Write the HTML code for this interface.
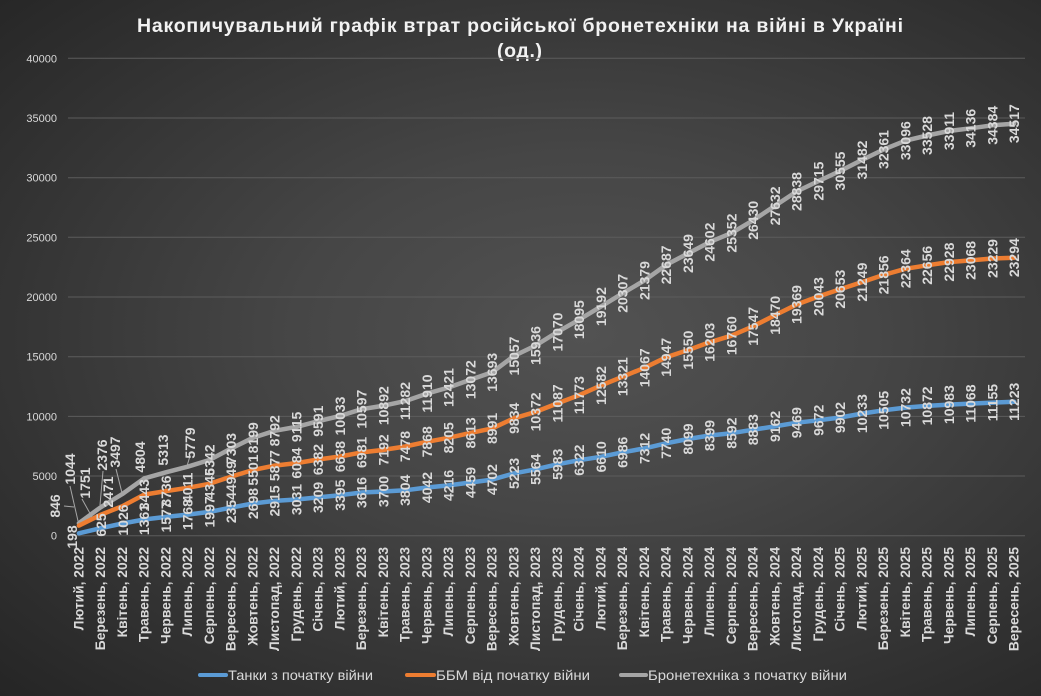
<!DOCTYPE html>
<html><head><meta charset="utf-8">
<style>
html,body{margin:0;padding:0;}
body{width:1041px;height:696px;overflow:hidden;
background:radial-gradient(ellipse farthest-corner at 56% 48%, #525252 0%, #464646 35%, #343434 70%, #252525 100%);}
svg{display:block;font-family:"Liberation Sans","DejaVu Sans",sans-serif;}
.yl{font-size:11px;fill:#d9d9d9;text-anchor:end;}
.xl text{font-size:13.8px;font-weight:bold;fill:#d9d9d9;text-anchor:end;dominant-baseline:central;}
.dl text{font-size:14px;font-weight:bold;fill:#d9d9d9;text-anchor:middle;dominant-baseline:central;}
.lg{font-size:14px;fill:#d9d9d9;dominant-baseline:central;}
</style></head><body>
<svg width="1041" height="696" viewBox="0 0 1041 696" xmlns="http://www.w3.org/2000/svg">
<!-- title -->
<text x="137" y="32" textLength="766" lengthAdjust="spacing" style="font-size:19.5px;font-weight:bold;fill:#f2f2f2;">Накопичувальний графік втрат російської бронетехніки на війні в Україні</text>
<text x="497" y="57" textLength="45" lengthAdjust="spacing" style="font-size:19.5px;font-weight:bold;fill:#f2f2f2;">(од.)</text>

<!-- gridlines -->
<g stroke="#5c5c5c" stroke-width="1">
<line x1="68" y1="535.7" x2="1025" y2="535.7"/>
<line x1="68" y1="476.0" x2="1025" y2="476.0"/>
<line x1="68" y1="416.4" x2="1025" y2="416.4"/>
<line x1="68" y1="356.7" x2="1025" y2="356.7"/>
<line x1="68" y1="297.0" x2="1025" y2="297.0"/>
<line x1="68" y1="237.3" x2="1025" y2="237.3"/>
<line x1="68" y1="177.7" x2="1025" y2="177.7"/>
<line x1="68" y1="118.0" x2="1025" y2="118.0"/>
<line x1="68" y1="58.3" x2="1025" y2="58.3"/>
</g>
<g class="yl">
<text x="57" y="539.7">0</text>
<text x="57" y="480.0">5000</text>
<text x="57" y="420.4">10000</text>
<text x="57" y="360.7">15000</text>
<text x="57" y="301.0">20000</text>
<text x="57" y="241.3">25000</text>
<text x="57" y="181.7">30000</text>
<text x="57" y="122.0">35000</text>
<text x="57" y="62.3">40000</text>
</g>

<!-- x labels -->
<g class="xl">
<text transform="translate(78.9 547) rotate(-90)">Лютий, 2022</text>
<text transform="translate(100.65 547) rotate(-90)">Березень, 2022</text>
<text transform="translate(122.4 547) rotate(-90)">Квітень, 2022</text>
<text transform="translate(144.15 547) rotate(-90)">Травень, 2022</text>
<text transform="translate(165.9 547) rotate(-90)">Червень, 2022</text>
<text transform="translate(187.65 547) rotate(-90)">Липень, 2022</text>
<text transform="translate(209.4 547) rotate(-90)">Серпень, 2022</text>
<text transform="translate(231.15 547) rotate(-90)">Вересень, 2022</text>
<text transform="translate(252.9 547) rotate(-90)">Жовтень, 2022</text>
<text transform="translate(274.65 547) rotate(-90)">Листопад, 2022</text>
<text transform="translate(296.4 547) rotate(-90)">Грудень, 2022</text>
<text transform="translate(318.15 547) rotate(-90)">Січень, 2023</text>
<text transform="translate(339.9 547) rotate(-90)">Лютий, 2023</text>
<text transform="translate(361.65 547) rotate(-90)">Березень, 2023</text>
<text transform="translate(383.4 547) rotate(-90)">Квітень, 2023</text>
<text transform="translate(405.15 547) rotate(-90)">Травень, 2023</text>
<text transform="translate(426.9 547) rotate(-90)">Червень, 2023</text>
<text transform="translate(448.65 547) rotate(-90)">Липень, 2023</text>
<text transform="translate(470.4 547) rotate(-90)">Серпень, 2023</text>
<text transform="translate(492.15 547) rotate(-90)">Вересень, 2023</text>
<text transform="translate(513.9 547) rotate(-90)">Жовтень, 2023</text>
<text transform="translate(535.65 547) rotate(-90)">Листопад, 2023</text>
<text transform="translate(557.4 547) rotate(-90)">Грудень, 2023</text>
<text transform="translate(579.15 547) rotate(-90)">Січень, 2024</text>
<text transform="translate(600.9 547) rotate(-90)">Лютий, 2024</text>
<text transform="translate(622.65 547) rotate(-90)">Березень, 2024</text>
<text transform="translate(644.4 547) rotate(-90)">Квітень, 2024</text>
<text transform="translate(666.15 547) rotate(-90)">Травень, 2024</text>
<text transform="translate(687.9 547) rotate(-90)">Червень, 2024</text>
<text transform="translate(709.65 547) rotate(-90)">Липень, 2024</text>
<text transform="translate(731.4 547) rotate(-90)">Серпень, 2024</text>
<text transform="translate(753.15 547) rotate(-90)">Вересень, 2024</text>
<text transform="translate(774.9 547) rotate(-90)">Жовтень, 2024</text>
<text transform="translate(796.65 547) rotate(-90)">Листопад, 2024</text>
<text transform="translate(818.4 547) rotate(-90)">Грудень, 2024</text>
<text transform="translate(840.15 547) rotate(-90)">Січень, 2025</text>
<text transform="translate(861.9 547) rotate(-90)">Лютий, 2025</text>
<text transform="translate(883.65 547) rotate(-90)">Березень, 2025</text>
<text transform="translate(905.4 547) rotate(-90)">Квітень, 2025</text>
<text transform="translate(927.15 547) rotate(-90)">Травень, 2025</text>
<text transform="translate(948.9 547) rotate(-90)">Червень, 2025</text>
<text transform="translate(970.65 547) rotate(-90)">Липень, 2025</text>
<text transform="translate(992.4 547) rotate(-90)">Серпень, 2025</text>
<text transform="translate(1014.15 547) rotate(-90)">Вересень, 2025</text>
</g>

<!-- series -->
<g fill="none" stroke-width="4.5" stroke-linejoin="round" stroke-linecap="round">
<polyline stroke="#a5a5a5" points="78.9,523.2 100.65,507.3 122.4,494.0 144.15,478.4 165.9,472.3 187.65,466.7 209.4,460.0 231.15,448.5 252.9,437.8 274.65,430.8 296.4,426.9 318.15,421.2 339.9,416.0 361.65,409.2 383.4,405.7 405.15,401.1 426.9,393.6 448.65,387.5 470.4,379.7 492.15,372.3 513.9,356.0 535.65,345.5 557.4,332.0 579.15,319.7 600.9,306.6 622.65,293.3 644.4,280.5 666.15,264.9 687.9,253.5 709.65,242.1 731.4,233.1 753.15,220.3 774.9,205.9 796.65,191.5 818.4,181.1 840.15,171.0 861.9,160.0 883.65,149.5 905.4,140.7 927.15,135.5 948.9,131.0 970.65,128.3 992.4,125.3 1014.15,123.7"/>
<polyline stroke="#ed7d31" points="78.9,525.6 100.65,514.8 122.4,506.2 144.15,494.6 165.9,491.1 187.65,487.8 209.4,483.8 231.15,476.6 252.9,470.0 274.65,465.6 296.4,463.1 318.15,459.5 339.9,456.5 361.65,452.4 383.4,449.9 405.15,446.5 426.9,441.8 448.65,437.8 470.4,432.9 492.15,428.4 513.9,418.3 535.65,411.9 557.4,403.4 579.15,395.2 600.9,385.5 622.65,376.7 644.4,367.8 666.15,357.3 687.9,350.1 709.65,342.3 731.4,335.7 753.15,326.3 774.9,315.3 796.65,304.5 818.4,296.5 840.15,289.2 861.9,282.1 883.65,274.9 905.4,268.8 927.15,265.3 948.9,262.1 970.65,260.4 992.4,258.5 1014.15,257.7"/>
<polyline stroke="#5b9bd5" points="78.9,533.3 100.65,528.2 122.4,523.5 144.15,519.5 165.9,516.9 187.65,514.6 209.4,511.9 231.15,507.6 252.9,503.5 274.65,500.9 296.4,499.5 318.15,497.4 339.9,495.2 361.65,492.5 383.4,491.5 405.15,490.3 426.9,487.5 448.65,485.4 470.4,482.5 492.15,479.6 513.9,473.4 535.65,469.3 557.4,464.3 579.15,460.2 600.9,456.8 622.65,452.3 644.4,448.4 666.15,443.3 687.9,439.0 709.65,435.5 731.4,433.2 753.15,429.7 774.9,426.4 796.65,422.7 818.4,420.3 840.15,417.5 861.9,413.6 883.65,410.3 905.4,407.6 927.15,405.9 948.9,404.6 970.65,403.6 992.4,402.6 1014.15,401.8"/>
</g>

<!-- leader lines -->
<g stroke="#a6a6a6" stroke-width="1" fill="none">
<line x1="70" y1="486" x2="78" y2="521"/>
<line x1="64" y1="506" x2="74" y2="507"/>
<line x1="82" y1="499" x2="92" y2="517"/>
<line x1="103" y1="471" x2="100" y2="505"/>
<line x1="116" y1="469" x2="122" y2="493"/>
<line x1="190" y1="456" x2="187" y2="466"/>
</g>

<!-- data labels: blue -->
<g class="dl">
<text transform="translate(72 537) rotate(-90)">198</text>
<text transform="translate(101 525) rotate(-90)">625</text>
<text transform="translate(123 520) rotate(-90)">1026</text>
<text transform="translate(144.15 519.5) rotate(-90)">1361</text>
<text transform="translate(165.9 516.9) rotate(-90)">1577</text>
<text transform="translate(187.65 514.6) rotate(-90)">1768</text>
<text transform="translate(209.4 511.9) rotate(-90)">1997</text>
<text transform="translate(231.15 507.6) rotate(-90)">2354</text>
<text transform="translate(252.9 503.5) rotate(-90)">2698</text>
<text transform="translate(274.65 500.9) rotate(-90)">2915</text>
<text transform="translate(296.4 499.5) rotate(-90)">3031</text>
<text transform="translate(318.15 497.4) rotate(-90)">3209</text>
<text transform="translate(339.9 495.2) rotate(-90)">3395</text>
<text transform="translate(361.65 492.5) rotate(-90)">3616</text>
<text transform="translate(383.4 491.5) rotate(-90)">3700</text>
<text transform="translate(405.15 490.3) rotate(-90)">3804</text>
<text transform="translate(426.9 487.5) rotate(-90)">4042</text>
<text transform="translate(448.65 485.4) rotate(-90)">4216</text>
<text transform="translate(470.4 482.5) rotate(-90)">4459</text>
<text transform="translate(492.15 479.6) rotate(-90)">4702</text>
<text transform="translate(513.9 473.4) rotate(-90)">5223</text>
<text transform="translate(535.65 469.3) rotate(-90)">5564</text>
<text transform="translate(557.4 464.3) rotate(-90)">5983</text>
<text transform="translate(579.15 460.2) rotate(-90)">6322</text>
<text transform="translate(600.9 456.8) rotate(-90)">6610</text>
<text transform="translate(622.65 452.3) rotate(-90)">6986</text>
<text transform="translate(644.4 448.4) rotate(-90)">7312</text>
<text transform="translate(666.15 443.3) rotate(-90)">7740</text>
<text transform="translate(687.9 439.0) rotate(-90)">8099</text>
<text transform="translate(709.65 435.5) rotate(-90)">8399</text>
<text transform="translate(731.4 433.2) rotate(-90)">8592</text>
<text transform="translate(753.15 429.7) rotate(-90)">8883</text>
<text transform="translate(774.9 426.4) rotate(-90)">9162</text>
<text transform="translate(796.65 422.7) rotate(-90)">9469</text>
<text transform="translate(818.4 420.3) rotate(-90)">9672</text>
<text transform="translate(840.15 417.5) rotate(-90)">9902</text>
<text transform="translate(861.9 413.6) rotate(-90)">10233</text>
<text transform="translate(883.65 410.3) rotate(-90)">10505</text>
<text transform="translate(905.4 407.6) rotate(-90)">10732</text>
<text transform="translate(927.15 405.9) rotate(-90)">10872</text>
<text transform="translate(948.9 404.6) rotate(-90)">10983</text>
<text transform="translate(970.65 403.6) rotate(-90)">11068</text>
<text transform="translate(992.4 402.6) rotate(-90)">11155</text>
<text transform="translate(1014.15 401.8) rotate(-90)">11223</text>
</g>

<!-- data labels: orange -->
<g class="dl">
<text transform="translate(55 506) rotate(-90)">846</text>
<text transform="translate(85 483) rotate(-90)">1751</text>
<text transform="translate(108 492) rotate(-90)">2471</text>
<text transform="translate(144.15 494.6) rotate(-90)">3443</text>
<text transform="translate(165.9 491.1) rotate(-90)">3736</text>
<text transform="translate(187.65 487.8) rotate(-90)">4011</text>
<text transform="translate(209.4 483.8) rotate(-90)">4345</text>
<text transform="translate(231.15 476.6) rotate(-90)">4949</text>
<text transform="translate(252.9 470.0) rotate(-90)">5501</text>
<text transform="translate(274.65 465.6) rotate(-90)">5877</text>
<text transform="translate(296.4 463.1) rotate(-90)">6084</text>
<text transform="translate(318.15 459.5) rotate(-90)">6382</text>
<text transform="translate(339.9 456.5) rotate(-90)">6638</text>
<text transform="translate(361.65 452.4) rotate(-90)">6981</text>
<text transform="translate(383.4 449.9) rotate(-90)">7192</text>
<text transform="translate(405.15 446.5) rotate(-90)">7478</text>
<text transform="translate(426.9 441.8) rotate(-90)">7868</text>
<text transform="translate(448.65 437.8) rotate(-90)">8205</text>
<text transform="translate(470.4 432.9) rotate(-90)">8613</text>
<text transform="translate(492.15 428.4) rotate(-90)">8991</text>
<text transform="translate(513.9 418.3) rotate(-90)">9834</text>
<text transform="translate(535.65 411.9) rotate(-90)">10372</text>
<text transform="translate(557.4 403.4) rotate(-90)">11087</text>
<text transform="translate(579.15 395.2) rotate(-90)">11773</text>
<text transform="translate(600.9 385.5) rotate(-90)">12582</text>
<text transform="translate(622.65 376.7) rotate(-90)">13321</text>
<text transform="translate(644.4 367.8) rotate(-90)">14067</text>
<text transform="translate(666.15 357.3) rotate(-90)">14947</text>
<text transform="translate(687.9 350.1) rotate(-90)">15550</text>
<text transform="translate(709.65 342.3) rotate(-90)">16203</text>
<text transform="translate(731.4 335.7) rotate(-90)">16760</text>
<text transform="translate(753.15 326.3) rotate(-90)">17547</text>
<text transform="translate(774.9 315.3) rotate(-90)">18470</text>
<text transform="translate(796.65 304.5) rotate(-90)">19369</text>
<text transform="translate(818.4 296.5) rotate(-90)">20043</text>
<text transform="translate(840.15 289.2) rotate(-90)">20653</text>
<text transform="translate(861.9 282.1) rotate(-90)">21249</text>
<text transform="translate(883.65 274.9) rotate(-90)">21856</text>
<text transform="translate(905.4 268.8) rotate(-90)">22364</text>
<text transform="translate(927.15 265.3) rotate(-90)">22656</text>
<text transform="translate(948.9 262.1) rotate(-90)">22928</text>
<text transform="translate(970.65 260.4) rotate(-90)">23068</text>
<text transform="translate(992.4 258.5) rotate(-90)">23229</text>
<text transform="translate(1014.15 257.7) rotate(-90)">23294</text>
</g>

<!-- data labels: gray -->
<g class="dl">
<text transform="translate(70 469) rotate(-90)">1044</text>
<text transform="translate(102 455) rotate(-90)">2376</text>
<text transform="translate(115 452) rotate(-90)">3497</text>
<text transform="translate(140 457) rotate(-90)">4804</text>
<text transform="translate(163 450) rotate(-90)">5313</text>
<text transform="translate(190 443) rotate(-90)">5779</text>
<text transform="translate(209.4 460.0) rotate(-90)">6342</text>
<text transform="translate(231.15 448.5) rotate(-90)">7303</text>
<text transform="translate(252.9 437.8) rotate(-90)">8199</text>
<text transform="translate(274.65 430.8) rotate(-90)">8792</text>
<text transform="translate(296.4 426.9) rotate(-90)">9115</text>
<text transform="translate(318.15 421.2) rotate(-90)">9591</text>
<text transform="translate(339.9 416.0) rotate(-90)">10033</text>
<text transform="translate(361.65 409.2) rotate(-90)">10597</text>
<text transform="translate(383.4 405.7) rotate(-90)">10892</text>
<text transform="translate(405.15 401.1) rotate(-90)">11282</text>
<text transform="translate(426.9 393.6) rotate(-90)">11910</text>
<text transform="translate(448.65 387.5) rotate(-90)">12421</text>
<text transform="translate(470.4 379.7) rotate(-90)">13072</text>
<text transform="translate(492.15 372.3) rotate(-90)">13693</text>
<text transform="translate(513.9 356.0) rotate(-90)">15057</text>
<text transform="translate(535.65 345.5) rotate(-90)">15936</text>
<text transform="translate(557.4 332.0) rotate(-90)">17070</text>
<text transform="translate(579.15 319.7) rotate(-90)">18095</text>
<text transform="translate(600.9 306.6) rotate(-90)">19192</text>
<text transform="translate(622.65 293.3) rotate(-90)">20307</text>
<text transform="translate(644.4 280.5) rotate(-90)">21379</text>
<text transform="translate(666.15 264.9) rotate(-90)">22687</text>
<text transform="translate(687.9 253.5) rotate(-90)">23649</text>
<text transform="translate(709.65 242.1) rotate(-90)">24602</text>
<text transform="translate(731.4 233.1) rotate(-90)">25352</text>
<text transform="translate(753.15 220.3) rotate(-90)">26430</text>
<text transform="translate(774.9 205.9) rotate(-90)">27632</text>
<text transform="translate(796.65 191.5) rotate(-90)">28838</text>
<text transform="translate(818.4 181.1) rotate(-90)">29715</text>
<text transform="translate(840.15 171.0) rotate(-90)">30555</text>
<text transform="translate(861.9 160.0) rotate(-90)">31482</text>
<text transform="translate(883.65 149.5) rotate(-90)">32361</text>
<text transform="translate(905.4 140.7) rotate(-90)">33096</text>
<text transform="translate(927.15 135.5) rotate(-90)">33528</text>
<text transform="translate(948.9 131.0) rotate(-90)">33911</text>
<text transform="translate(970.65 128.3) rotate(-90)">34136</text>
<text transform="translate(992.4 125.3) rotate(-90)">34384</text>
<text transform="translate(1014.15 123.7) rotate(-90)">34517</text>
</g>

<!-- legend -->
<g stroke-width="4" stroke-linecap="round">
<line x1="200" y1="675" x2="226" y2="675" stroke="#5b9bd5"/>
<line x1="407" y1="675" x2="434" y2="675" stroke="#ed7d31"/>
<line x1="621" y1="675" x2="646" y2="675" stroke="#a5a5a5"/>
</g>
<text class="lg" x="228" y="675" textLength="145" lengthAdjust="spacingAndGlyphs">Танки з початку війни</text>
<text class="lg" x="436" y="675" textLength="154" lengthAdjust="spacingAndGlyphs">ББМ від початку війни</text>
<text class="lg" x="648" y="675" textLength="199" lengthAdjust="spacingAndGlyphs">Бронетехніка з початку війни</text>
</svg>
</body></html>
